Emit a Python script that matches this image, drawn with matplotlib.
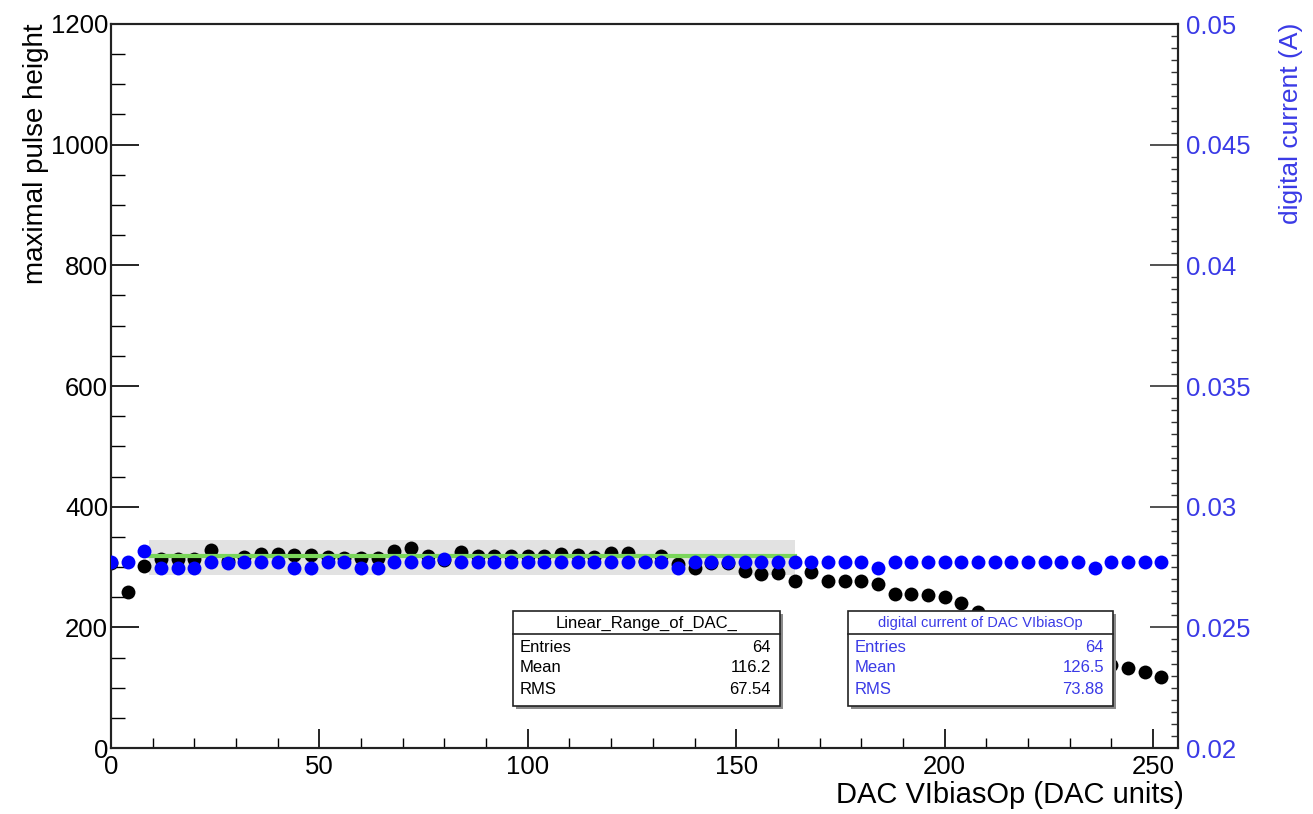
import matplotlib
matplotlib.use('Agg')
import matplotlib.pyplot as plt
from matplotlib.patches import Rectangle
from matplotlib.ticker import MultipleLocator, FormatStrFormatter

plt.rcParams['font.family'] = ['Liberation Sans', 'DejaVu Sans']

# DAC settings of the scan
dac = [0, 4, 8, 12, 16, 20, 24, 28, 32, 36, 40, 44, 48, 52, 56, 60,
       64, 68, 72, 76, 80, 84, 88, 92, 96, 100, 104, 108, 112, 116, 120, 124,
       128, 132, 136, 140, 144, 148, 152, 156, 160, 164, 168, 172, 176, 180, 184, 188,
       192, 196, 200, 204, 208, 212, 216, 220, 224, 228, 232, 236, 240, 244, 248, 252]

# maximal pulse height (black, left axis)
pulse_height = [307, 259, 302, 313, 313, 313, 329, 310, 316, 322, 322, 320, 320, 316, 315, 315,
                315, 326, 332, 318, 312, 325, 319, 319, 319, 319, 319, 322, 320, 316, 323, 323,
                310, 318, 305, 299, 306, 307, 293, 289, 290, 276, 291, 276, 276, 276, 272, 256,
                256, 253, 250, 240, 225, 212, 200, 188, 176, 165, 155, 145, 137, 132, 126, 118]

# digital current (blue, right axis)
digital_current = [0.02771, 0.02771, 0.02816, 0.02746, 0.02746, 0.02746, 0.02771, 0.02765,
                   0.02771, 0.02771, 0.02771, 0.02746, 0.02746, 0.02771, 0.02771, 0.02746,
                   0.02746, 0.02771, 0.02771, 0.02771, 0.02785, 0.02771, 0.02771, 0.02771,
                   0.02771, 0.02771, 0.02771, 0.02771, 0.02771, 0.02771, 0.02771, 0.02771,
                   0.02771, 0.02771, 0.02746, 0.02771, 0.02771, 0.02771, 0.02771, 0.02771,
                   0.02771, 0.02771, 0.02771, 0.02771, 0.02771, 0.02771, 0.02746, 0.02771,
                   0.02771, 0.02771, 0.02771, 0.02771, 0.02771, 0.02771, 0.02771, 0.02771,
                   0.02771, 0.02771, 0.02771, 0.02746, 0.02771, 0.02771, 0.02771, 0.02771]

# linear range fit: plateau level and band
fit_range = [9, 164]
fit_level = 318
band_low, band_high = 286, 345

stats1_title = 'Linear_Range_of_DAC_'
stats1 = [('Entries', '64'), ('Mean', '116.2'), ('RMS', '67.54')]
stats2_title = 'digital current of DAC VIbiasOp'
stats2 = [('Entries', '64'), ('Mean', '126.5'), ('RMS', '73.88')]

W, H = 1313, 814
fig = plt.figure(figsize=(W / 100, H / 100), dpi=100)
ax = fig.add_axes([111 / W, 1 - 748 / H, 1067 / W, 724 / H])
ax2 = ax.twinx()

BLUE = '#0000ff'
TXTBLUE = '#3a3ae6'

ax.fill_between(fit_range, band_low, band_high, color='#e2e2e2', lw=0, zorder=1)
ax.plot(dac, pulse_height, 'o', color='black', ms=10, mew=0, zorder=3)
ax.plot(fit_range, [fit_level, fit_level], color='#7ad65a', lw=3, zorder=4)
ax2.plot(dac, digital_current, 'o', color=BLUE, ms=10, mew=0, zorder=3)

ax.set_xlim(0, 256)
ax.set_ylim(0, 1200)
ax2.set_ylim(0.02, 0.05)

ax.xaxis.set_major_locator(MultipleLocator(50))
ax.xaxis.set_minor_locator(MultipleLocator(10))
ax.yaxis.set_major_locator(MultipleLocator(200))
ax.yaxis.set_minor_locator(MultipleLocator(50))
ax2.yaxis.set_major_locator(MultipleLocator(0.005))
ax2.yaxis.set_minor_locator(MultipleLocator(0.0005))
ax2.yaxis.set_major_formatter(FormatStrFormatter('%g'))

# tick lengths in points
ax.tick_params(axis='x', which='major', direction='in', length=14, width=1.2,
               labelsize=18.5, pad=5, top=False)
ax.tick_params(axis='x', which='minor', direction='in', length=7, width=1, top=False)
ax.tick_params(axis='y', which='major', direction='in', length=20, width=1.2,
               labelsize=18.5, pad=2, right=False)
ax.tick_params(axis='y', which='minor', direction='in', length=10, width=1, right=False)
ax2.tick_params(axis='y', which='major', direction='in', length=20, width=1.2,
                labelsize=18.5, pad=6, labelcolor=TXTBLUE, color='#333333')
ax2.tick_params(axis='y', which='minor', direction='in', length=5, width=1, color='#333333')

for a in (ax, ax2):
    for s in a.spines.values():
        s.set_linewidth(1.5)
        s.set_color('#222222')

fig.text(23 / W, 1 - 23 / H, 'maximal pulse height', rotation=90, ha='left', va='top',
         fontsize=20)
fig.text(1279 / W, 1 - 23 / H, 'digital current (A)', rotation=90, ha='left', va='top',
         fontsize=19, color=TXTBLUE)
fig.text(1184 / W, 1 - 781 / H, 'DAC VIbiasOp (DAC units)', ha='right', va='top',
         fontsize=21)


def px(x, y):
    return x / W, 1 - y / H


def stats_box(x0, y0, x1, y1, title, rows, color, title_size):
    sx, sy = px(x0 + 3, y1 + 3)
    fig.add_artist(Rectangle((sx, sy), (x1 - x0) / W, (y1 - y0) / H,
                             transform=fig.transFigure, fc='#8a8a8a', ec='none', zorder=5))
    bx, by = px(x0, y1)
    fig.add_artist(Rectangle((bx, by), (x1 - x0) / W, (y1 - y0) / H,
                             transform=fig.transFigure, fc='white', ec='#222222', lw=1.2,
                             zorder=6))
    ly = 1 - (y0 + 23) / H
    fig.add_artist(plt.Line2D([x0 / W, x1 / W], [ly, ly], transform=fig.transFigure,
                              color='#222222', lw=1.2, zorder=7))
    tx, ty = px((x0 + x1) / 2, y0 + 12)
    fig.text(tx, ty, title, ha='center', va='center', fontsize=title_size, color=color,
             zorder=8)
    for k, (name, val) in enumerate(rows):
        yy = y0 + 36 + k * 21
        fig.text(*px(x0 + 7, yy), name, ha='left', va='center', fontsize=12, color=color,
                 zorder=8)
        fig.text(*px(x1 - 9, yy), val, ha='right', va='center', fontsize=12, color=color,
                 zorder=8)


stats_box(513, 611, 780, 706, stats1_title, stats1, 'black', 12)
stats_box(848, 611, 1113, 706, stats2_title, stats2, TXTBLUE, 10.5)

fig.savefig('out.png', dpi=100)
